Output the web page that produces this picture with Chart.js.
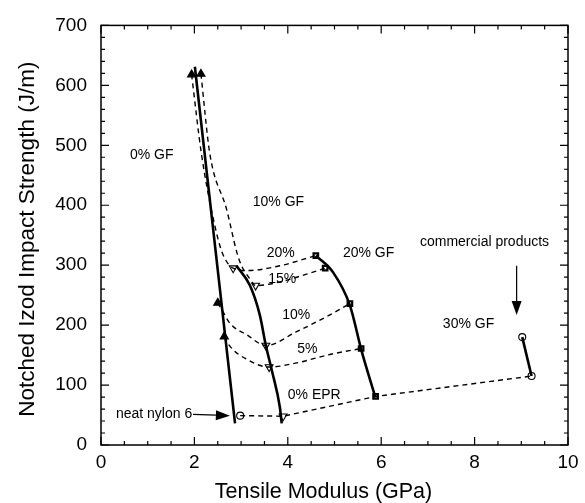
<!DOCTYPE html>
<html>
<head>
<meta charset="utf-8">
<script src="https://cdn.jsdelivr.net/npm/chart.js@4"></script>
<style>
  html, body { margin: 0; padding: 0; background: #fff; }
  canvas { display: block; }
</style>
</head>
<body>
<canvas id="chart" width="585" height="503"></canvas>
<script>
// tick labels
const xTicks = [0, 2, 4, 6, 8, 10];
const yTicks = [0, 100, 200, 300, 400, 500, 600, 700];
const xTitle = "Tensile Modulus (GPa)";
const yTitle = "Notched Izod Impact Strength (J/m)";

// dashed curves: constant EPR content (tensile modulus GPa, impact J/m)
const epr20X = [1.94, 2.15, 2.44, 2.60, 2.83, 3.12, 3.83, 4.60];
const epr20Y = [618, 486, 365, 320, 295, 291, 299, 316];
const epr15X = [2.14, 2.33, 2.69, 2.91, 3.01, 3.19, 3.31, 3.83, 4.40, 4.80];
const epr15Y = [619, 486, 393, 321, 299, 277, 266, 272, 285, 295];
const epr10X = [2.50, 2.60, 2.76, 3.12, 3.53, 4.19, 4.90, 5.33];
const epr10Y = [237, 224, 203, 184, 166, 189, 217, 236];
const epr5X = [2.64, 2.76, 3.12, 3.60, 4.19, 4.90, 5.57];
const epr5Y = [181, 165, 143, 130, 137, 151, 161];
const epr0X = [2.98, 3.90, 5.88, 9.22];
const epr0Y = [49, 48, 81, 115];

// solid curves: constant glass fibre content
const gf0X = [2.01, 2.87];
const gf0Y = [631, 36];
const gf10X = [2.90, 3.19, 3.40, 3.53, 3.66, 3.83, 3.87];
const gf10Y = [299, 266, 217, 166, 124, 63, 36];
const gf20X = [4.60, 4.97, 5.33, 5.58, 5.87];
const gf20Y = [316, 288, 233, 157, 81];
const gf30X = [9.02, 9.22];
const gf30Y = [180, 115];

// measured points
const upTriX = [1.94, 2.14, 2.50, 2.64];
const upTriY = [618, 619, 237, 181];
const downTriX = [2.83, 3.31, 3.53, 3.60, 3.90];
const downTriY = [295, 266, 166, 130, 48];
const squareX = [4.60, 4.80, 5.33, 5.57, 5.88];
const squareY = [316, 295, 236, 161, 81];
const circleX = [2.98, 9.02, 9.22];
const circleY = [49, 180, 115];

// text labels inside the plot (left edge, vertical middle, in data units)
const notes = [
    { text: "0% GF", x: 0.62, y: 483 },
    { text: "10% GF", x: 3.25, y: 405 },
    { text: "20%", x: 3.55, y: 320 },
    { text: "20% GF", x: 5.18, y: 320 },
    { text: "15%", x: 3.58, y: 277 },
    { text: "10%", x: 3.88, y: 217 },
    { text: "5%", x: 4.20, y: 160 },
    { text: "0% EPR", x: 4.00, y: 84 },
    { text: "neat nylon 6", x: 0.32, y: 51 },
    { text: "commercial products", x: 6.83, y: 338 },
    { text: "30% GF", x: 7.32, y: 201 }
];
const arrows = [
    { x1: 1.97, y1: 51, x2: 2.76, y2: 49 },
    { x1: 8.90, y1: 299, x2: 8.90, y2: 217 }
];

const FONT = "'Liberation Sans', Arial, Helvetica, sans-serif";

function pts(xs, ys) {
    return xs.map((x, i) => ({ x: x, y: ys[i] }));
}

function dashed(xs, ys, tension) {
    return {
        data: pts(xs, ys), showLine: true, borderColor: "#000", borderWidth: 1.4,
        borderDash: [5, 4], pointRadius: 0, tension: tension,
        cubicInterpolationMode: tension ? "monotone" : "default"
    };
}

function solid(xs, ys) {
    return {
        data: pts(xs, ys), showLine: true, borderColor: "#000", borderWidth: 2.6,
        pointRadius: 0, cubicInterpolationMode: "monotone"
    };
}

function markers(xs, ys, style, fill, radius, border, rotation) {
    return {
        data: pts(xs, ys), showLine: false, pointStyle: style, pointRadius: radius,
        pointRotation: rotation || 0, pointBackgroundColor: fill,
        pointBorderColor: "#000", pointBorderWidth: border
    };
}

// frame, inside ticks, axis titles, annotations and arrows
const decorations = {
    id: "decorations",
    afterDraw(chart) {
        const ctx = chart.ctx;
        const xs = chart.scales.x, ys = chart.scales.y;
        const { left, right, top, bottom } = chart.chartArea;
        ctx.save();
        ctx.strokeStyle = "#000";
        ctx.lineWidth = 1.5;
        ctx.strokeRect(left, top, right - left, bottom - top);

        ctx.lineWidth = 1.2;
        ctx.beginPath();
        for (let i = 0; i <= 20; i++) {
            const px = xs.getPixelForValue(i * 0.5);
            const len = i % 4 === 0 ? 8 : 4;
            ctx.moveTo(px, bottom); ctx.lineTo(px, bottom - len);
            ctx.moveTo(px, top); ctx.lineTo(px, top + len);
        }
        for (let i = 0; i <= 35; i++) {
            const py = ys.getPixelForValue(i * 20);
            const len = i % 5 === 0 ? 8 : 4;
            ctx.moveTo(left, py); ctx.lineTo(left + len, py);
            ctx.moveTo(right, py); ctx.lineTo(right - len, py);
        }
        ctx.stroke();

        ctx.fillStyle = "#000";
        ctx.textAlign = "center";
        ctx.textBaseline = "middle";
        ctx.font = "21.5px " + FONT;
        ctx.fillText(xTitle, (left + right) / 2 - 11, 492);
        ctx.save();
        ctx.translate(28, (top + bottom) / 2 + 4);
        ctx.rotate(-Math.PI / 2);
        ctx.font = "22.5px " + FONT;
        ctx.fillText(yTitle, 0, 0);
        ctx.restore();

        ctx.font = "14px " + FONT;
        ctx.textAlign = "left";
        notes.forEach(n => {
            ctx.fillText(n.text, xs.getPixelForValue(n.x), ys.getPixelForValue(n.y));
        });

        arrows.forEach(a => {
            const x1 = xs.getPixelForValue(a.x1), y1 = ys.getPixelForValue(a.y1);
            const x2 = xs.getPixelForValue(a.x2), y2 = ys.getPixelForValue(a.y2);
            const ang = Math.atan2(y2 - y1, x2 - x1);
            const head = 14, half = 5;
            ctx.lineWidth = 1.2;
            ctx.beginPath();
            ctx.moveTo(x1, y1);
            ctx.lineTo(x2 - head * Math.cos(ang), y2 - head * Math.sin(ang));
            ctx.stroke();
            ctx.beginPath();
            ctx.moveTo(x2, y2);
            ctx.lineTo(x2 - head * Math.cos(ang) + half * Math.sin(ang), y2 - head * Math.sin(ang) - half * Math.cos(ang));
            ctx.lineTo(x2 - head * Math.cos(ang) - half * Math.sin(ang), y2 - head * Math.sin(ang) + half * Math.cos(ang));
            ctx.closePath();
            ctx.fill();
        });
        ctx.restore();
    }
};

const ctx = document.getElementById("chart").getContext("2d");
new Chart(ctx, {
    type: "scatter",
    data: {
        datasets: [
            dashed(epr20X, epr20Y, 0.4),
            dashed(epr15X, epr15Y, 0.4),
            dashed(epr10X, epr10Y, 0.4),
            dashed(epr5X, epr5Y, 0.4),
            dashed(epr0X, epr0Y, 0),
            solid(gf0X, gf0Y),
            solid(gf10X, gf10Y),
            solid(gf20X, gf20Y),
            solid(gf30X, gf30Y),
            markers(upTriX, upTriY, "triangle", "#000", 4.5, 1.3),
            markers(downTriX, downTriY, "triangle", "#fff", 4.5, 1.1, 180),
            markers(squareX, squareY, "rect", "#fff", 3.2, 2.2),
            markers(circleX, circleY, "circle", "#fff", 3.5, 1.1)
        ]
    },
    options: {
        responsive: false,
        animation: false,
        layout: { padding: { top: 20, right: 17, left: 0, bottom: 0 } },
        plugins: { legend: { display: false }, tooltip: { enabled: false } },
        scales: {
            x: {
                type: "linear", min: 0, max: 10,
                afterBuildTicks: s => { s.ticks = xTicks.map(v => ({ value: v })); },
                ticks: { color: "#000", font: { family: FONT, size: 19 }, padding: 6 },
                grid: { display: false, drawTicks: false },
                border: { display: false },
                afterFit: s => { s.height = 58; }
            },
            y: {
                type: "linear", min: 0, max: 700,
                afterBuildTicks: s => { s.ticks = yTicks.map(v => ({ value: v })); },
                ticks: { color: "#000", font: { family: FONT, size: 19 }, padding: 14 },
                grid: { display: false, drawTicks: false },
                border: { display: false },
                afterFit: s => { s.width = 101; }
            }
        }
    },
    plugins: [decorations]
});
</script>
</body>
</html>
